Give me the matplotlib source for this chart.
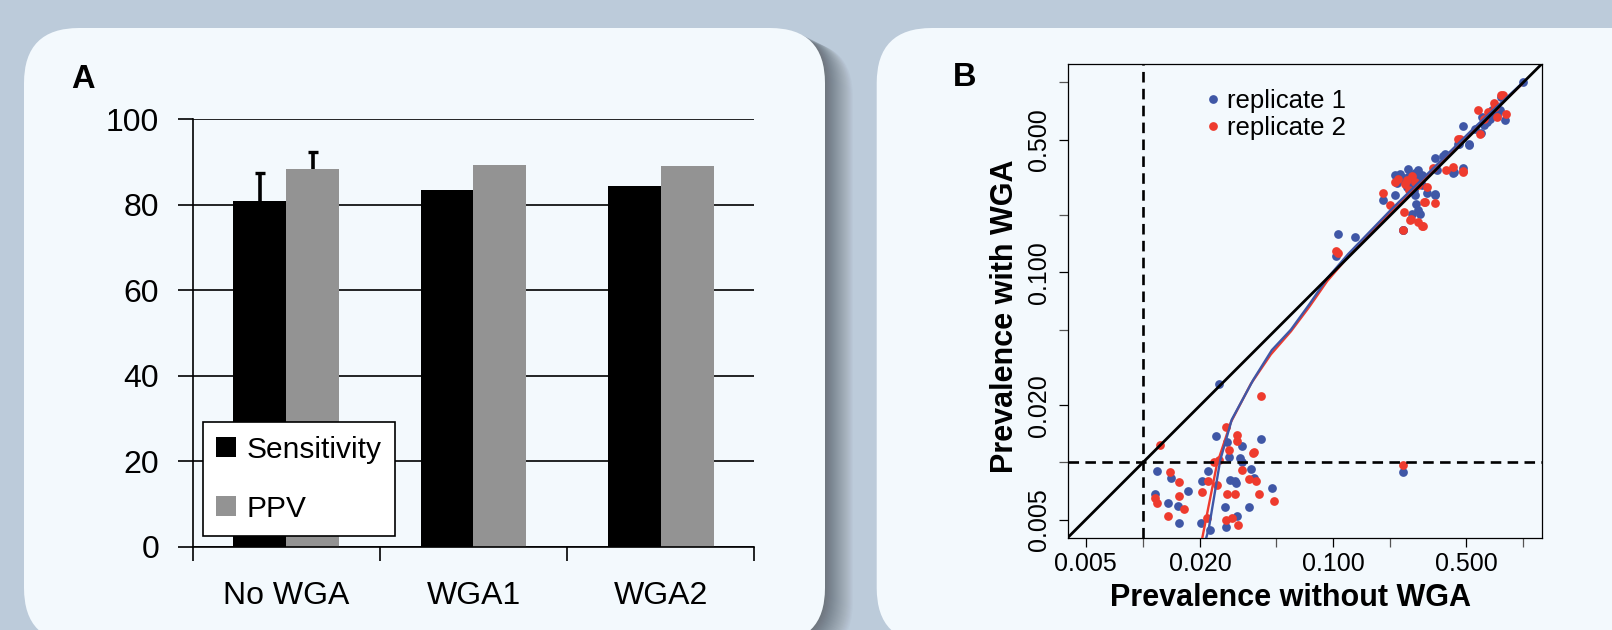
import numpy as np
import matplotlib
matplotlib.use("Agg")
import matplotlib.pyplot as plt
from matplotlib.patches import FancyBboxPatch, Patch
from matplotlib.transforms import IdentityTransform
from matplotlib.ticker import FixedLocator, NullFormatter

plt.rcParams['font.family'] = ['Liberation Sans', 'DejaVu Sans']

# ---- panel A data (percent) ----
groups = ['No WGA', 'WGA1', 'WGA2']
sensitivity = [80.9, 83.4, 84.4]
ppv = [88.2, 89.2, 88.9]
sens_err = [6.4, 0, 0]     # upper error, only No WGA has one
ppv_err = [4.2, 0, 0]

# ---- panel B data (prevalence) ----
rep1_x = [0.0252, 0.0242, 0.042, 0.033, 0.0278, 0.0325, 0.0282, 0.0221, 0.0204, 0.0119,
          0.0140, 0.0173, 0.0116, 0.0136, 0.0152, 0.0155, 0.0288, 0.031, 0.0305, 0.0372,
          0.0382, 0.0477, 0.036, 0.0271, 0.0202, 0.0225, 0.0273, 0.0312, 0.0331, 0.232,
          0.1055, 0.130, 0.1035,
          0.211, 0.247, 0.281, 0.229, 0.263, 0.287, 0.244, 0.211, 0.183, 0.271, 0.31, 0.344,
          0.273, 0.281, 0.259, 0.287, 0.232, 0.35, 0.429, 0.481, 0.344, 0.38, 0.456, 0.518,
          0.225, 0.255, 0.27, 0.24, 0.265, 0.295, 0.235, 0.25, 0.262, 0.278, 0.218, 0.292,
          1.0, 0.76, 0.716, 0.659, 0.609, 0.798, 0.73, 0.688, 0.641, 0.555, 0.481, 0.597,
          0.518, 0.458, 0.386, 0.431, 0.345, 0.233, 0.70, 0.75, 0.67, 0.62]
rep1_y = [0.0259, 0.0138, 0.0133, 0.0122, 0.0128, 0.0105, 0.0107, 0.0090, 0.0080, 0.0090,
          0.0083, 0.0071, 0.0068, 0.0061, 0.0059, 0.0048, 0.0081, 0.0078, 0.0080, 0.0092,
          0.0083, 0.0073, 0.0058, 0.0058, 0.0048, 0.0044, 0.0046, 0.0052, 0.0100, 0.0089,
          0.160, 0.154, 0.122,
          0.324, 0.352, 0.347, 0.312, 0.306, 0.318, 0.282, 0.255, 0.242, 0.255, 0.262, 0.258,
          0.23, 0.212, 0.204, 0.202, 0.167, 0.344, 0.333, 0.355, 0.402, 0.41, 0.476, 0.47,
          0.33, 0.29, 0.335, 0.30, 0.27, 0.29, 0.315, 0.32, 0.30, 0.31, 0.295, 0.325,
          1.0, 0.837, 0.742, 0.685, 0.657, 0.632, 0.67, 0.713, 0.619, 0.571, 0.587, 0.542,
          0.476, 0.476, 0.418, 0.338, 0.257, 0.168, 0.70, 0.72, 0.64, 0.60]

rep2_x = [0.0123, 0.042, 0.0273, 0.0312, 0.0312, 0.0382, 0.0378, 0.0282, 0.0235, 0.0252,
          0.0139, 0.0155, 0.0155, 0.0116, 0.0119, 0.0165, 0.0136, 0.0221, 0.0204, 0.0245,
          0.0278, 0.0304, 0.0332, 0.036, 0.0395, 0.0406, 0.049, 0.0273, 0.0293, 0.0316,
          0.0217, 0.232,
          0.104, 0.106,
          0.183, 0.211, 0.24, 0.281, 0.31, 0.198, 0.236, 0.254, 0.281, 0.297, 0.232, 0.306,
          0.344, 0.337, 0.427, 0.481, 0.456, 0.593, 0.22, 0.26, 0.25, 0.245, 0.27,
          0.76, 0.785, 0.577, 0.71, 0.808, 0.464, 0.39, 0.482, 0.30, 0.258, 0.294, 0.65, 0.70,
          0.73, 0.62]
rep2_y = [0.0124, 0.0224, 0.0153, 0.0140, 0.0129, 0.0114, 0.0112, 0.0117, 0.0100, 0.0103,
          0.0089, 0.0079, 0.0067, 0.0065, 0.0061, 0.0057, 0.0052, 0.0080, 0.0070, 0.0076,
          0.0068, 0.0068, 0.0091, 0.0082, 0.0080, 0.0068, 0.0063, 0.0050, 0.0051, 0.0047,
          0.0051, 0.0097,
          0.130, 0.127,
          0.262, 0.299, 0.293, 0.287, 0.283, 0.2255, 0.208, 0.188, 0.185, 0.175, 0.168, 0.235,
          0.232, 0.355, 0.357, 0.342, 0.506, 0.537, 0.31, 0.32, 0.27, 0.305, 0.30,
          0.855, 0.855, 0.713, 0.74, 0.685, 0.506, 0.345, 0.338, 0.235, 0.19, 0.175, 0.70, 0.78,
          0.66, 0.64]

# smoothed fits
fit1_x = [0.0215, 0.0222, 0.0255, 0.0293, 0.038, 0.0476, 0.06, 0.075, 0.093, 0.12, 0.2, 0.33, 0.55, 0.98]
fit1_y = [0.0040, 0.0045, 0.0103, 0.0168, 0.0272, 0.039, 0.050, 0.068, 0.093, 0.125, 0.212, 0.347, 0.575, 0.985]
fit2_x = [0.0205, 0.0245, 0.029, 0.037, 0.047, 0.06, 0.075, 0.093, 0.12, 0.2, 0.33, 0.55, 0.98]
fit2_y = [0.0040, 0.0098, 0.0163, 0.026, 0.037, 0.049, 0.066, 0.090, 0.121, 0.206, 0.341, 0.566, 0.975]

bg = '#bccbda'
panel_col = '#f3f9fd'
blue = '#3f57a6'
red = '#ee3b2e'

W, H = 1612, 630
fig = plt.figure(figsize=(W / 100, H / 100), dpi=100)
fig.patch.set_facecolor(bg)

# shadow + panels (pixel coordinates)
for k in range(1, 29):
    sh = FancyBboxPatch((24 + k, -13 - 0.5 * k), 801, 615, boxstyle='round,pad=0,rounding_size=55',
                        transform=IdentityTransform(), facecolor='black', edgecolor='none',
                        alpha=0.014, zorder=-12)
    fig.add_artist(sh)
for x0, w in [(24, 801), (876.7, 900)]:
    p = FancyBboxPatch((x0, -13), w, 615, boxstyle='round,pad=0,rounding_size=55',
                       transform=IdentityTransform(), facecolor=panel_col, edgecolor='none', zorder=-10)
    fig.add_artist(p)

# ---------------- Panel A ----------------
ax1 = fig.add_axes([192.7 / W, 1 - 546.7 / H, 561.6 / W, 427.7 / H])
ax1.set_facecolor('none')
x = np.arange(len(groups))
bw = 0.283
ax1.bar(x - bw / 2, sensitivity, bw, color='black', zorder=2)
ax1.bar(x + bw / 2, ppv, bw, color='#939393', zorder=2)

ex = [x[0] - bw / 2, x[0] + bw / 2]
ey = [sensitivity[0], ppv[0]]
ee = [sens_err[0], ppv_err[0]]
ax1.errorbar(ex, ey, yerr=[[0, 0], ee], fmt='none', ecolor='black', elinewidth=2.6, capsize=0, zorder=3)
ax1.plot(ex, np.array(ey) + np.array(ee), ls='none', marker='_', ms=6.5, mew=2.4, color='black', zorder=3)

ax1.set_xlim(-0.5, 2.5)
ax1.set_ylim(0, 100)
ax1.set_yticks(range(0, 101, 20))
ax1.yaxis.grid(True, color='black', lw=1.2)
ax1.set_axisbelow(True)
ax1.spines['top'].set_visible(False)
ax1.spines['right'].set_visible(False)
for s in ['left', 'bottom']:
    ax1.spines[s].set_linewidth(1.2)
ax1.tick_params(axis='y', length=10.6, width=1.2, pad=13.5, labelsize=23)
ax1.set_xticks(x)
ax1.set_xticklabels(groups)
ax1.set_xticks([-0.5, 0.5, 1.5, 2.5], minor=True)
ax1.tick_params(axis='x', which='major', length=0, pad=25, labelsize=23)
ax1.tick_params(axis='x', which='minor', length=10, width=1.2)

handles = [Patch(facecolor='black'), Patch(facecolor='#939393')]
leg = ax1.legend(handles, ['Sensitivity', 'PPV'], loc='lower left', bbox_to_anchor=(0.0189, 0.025),
                 borderaxespad=0, fontsize=21.5, fancybox=False, framealpha=1, facecolor='white',
                 edgecolor='black', handlelength=0.66, handleheight=0.66, handletextpad=0.36,
                 labelspacing=1.05, borderpad=0.44)
leg.get_frame().set_linewidth(1.2)
leg.set_zorder(5)

fig.text(71 / W, 1 - 87.5 / H, 'A', fontsize=23.5, fontweight='bold', ha='left', va='baseline')

# ---------------- Panel B ----------------
ax2 = fig.add_axes([1067.7 / W, 1 - 537.7 / H, 474 / W, 473.7 / H])
ax2.set_facecolor('none')
ax2.set_xscale('log')
ax2.set_yscale('log')
lo, hi = 0.00402, 1.25
ax2.set_xlim(lo, hi)
ax2.set_ylim(lo, hi)

ax2.plot(rep1_x, rep1_y, ls='none', marker='o', ms=6.3, mew=0, color=blue, label='replicate 1', zorder=2)
ax2.plot(rep2_x, rep2_y, ls='none', marker='o', ms=6.3, mew=0, color=red, label='replicate 2', zorder=2)
ax2.plot(fit2_x, fit2_y, color=red, lw=1.7, zorder=3)
ax2.plot(fit1_x, fit1_y, color=blue, lw=1.7, zorder=3)
ax2.plot([lo, hi], [lo, hi], color='black', lw=2.0, zorder=4)
ax2.axhline(0.01, color='black', lw=1.9, dashes=(4, 2.4), zorder=4)
ax2.axvline(0.01, color='black', lw=1.9, dashes=(4, 2.4), zorder=4)

major = [0.005, 0.02, 0.1, 0.5]
minor = [0.01, 0.05, 0.2, 1.0]
labels = ['0.005', '0.020', '0.100', '0.500']
for axis in [ax2.xaxis, ax2.yaxis]:
    axis.set_major_locator(FixedLocator(major))
    axis.set_minor_locator(FixedLocator(minor))
    axis.set_minor_formatter(NullFormatter())
ax2.set_xticklabels(labels)
ax2.set_yticklabels(labels)
ax2.tick_params(which='both', length=6.5, width=0.9)
ax2.tick_params(which='minor', color='#555555')
ax2.tick_params(axis='x', labelsize=18, pad=3.6)
ax2.tick_params(axis='y', labelsize=18, pad=5.5, labelrotation=90)
for t in ax2.get_yticklabels():
    t.set_va('center')
for s in ax2.spines.values():
    s.set_linewidth(0.9)

ax2.legend(loc='upper left', bbox_to_anchor=(0.291, 0.947), frameon=False, borderpad=0,
           borderaxespad=0, handlelength=0.6, handletextpad=0.22, labelspacing=0.12,
           fontsize=18.5, numpoints=1)

fig.text(1291 / W, 1 - 605.7 / H, 'Prevalence without WGA', fontsize=22, fontweight='bold',
         ha='center', va='baseline')
fig.text(1005 / W, 1 - 316 / H, 'Prevalence with WGA', fontsize=22, fontweight='bold',
         ha='center', va='center', rotation=90)
fig.text(953 / W, 1 - 86.5 / H, 'B', fontsize=23.5, fontweight='bold', ha='left', va='baseline')

fig.savefig('out.png', dpi=100, facecolor=fig.get_facecolor())
